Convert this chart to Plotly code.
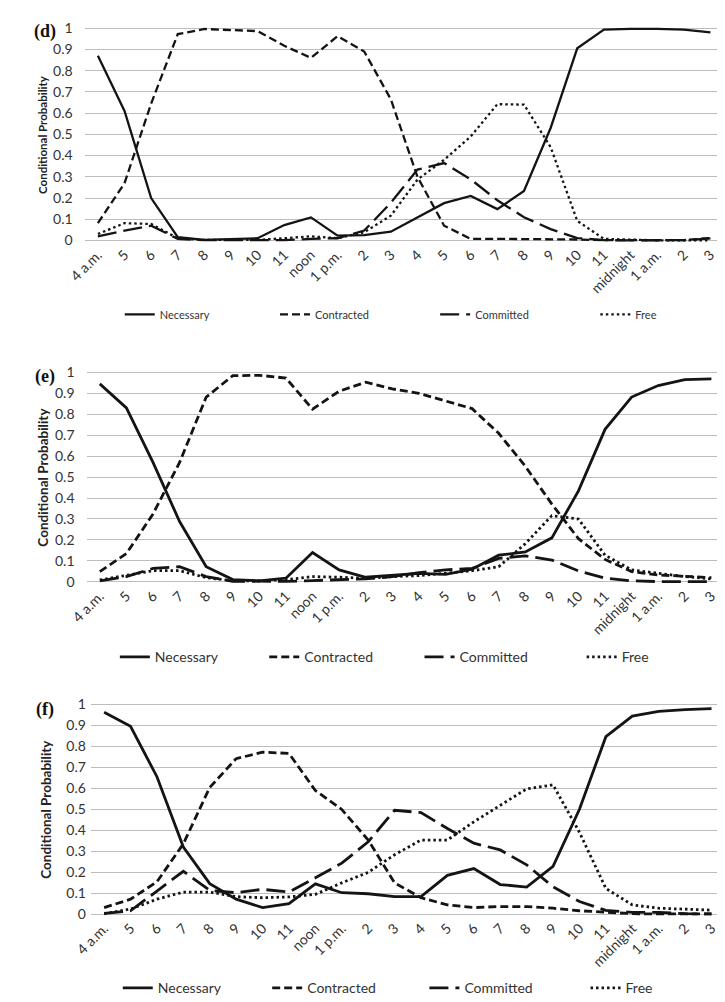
import plotly.graph_objects as go

hours = ["4 a.m.", "5", "6", "7", "8", "9", "10", "11", "noon", "1 p.m.", "2", "3",
         "4", "5", "6", "7", "8", "9", "10", "11", "midnight", "1 a.m.", "2", "3"]
series = ["Necessary", "Contracted", "Committed", "Free"]

# panel (d)
d_necessary = [0.87, 0.61, 0.20, 0.016, 0.003, 0.008, 0.011, 0.073, 0.109, 0.023, 0.026, 0.042,
               0.11, 0.176, 0.21, 0.148, 0.233, 0.53, 0.905, 0.993, 0.997, 0.997, 0.993, 0.98]
d_contracted = [0.082, 0.27, 0.645, 0.972, 0.996, 0.99, 0.986, 0.917, 0.86, 0.962, 0.89, 0.665,
                0.30, 0.07, 0.008, 0.008, 0.008, 0.008, 0.005, 0.002, 0.001, 0.001, 0.002, 0.012]
d_committed = [0.02, 0.047, 0.07, 0.008, 0.002, 0.002, 0.002, 0.002, 0.008, 0.011, 0.047, 0.178,
               0.334, 0.365, 0.288, 0.19, 0.11, 0.054, 0.012, 0.002, 0.001, 0.001, 0.002, 0.01]
d_free = [0.031, 0.082, 0.078, 0.011, 0.003, 0.003, 0.003, 0.011, 0.02, 0.011, 0.039, 0.117,
          0.287, 0.38, 0.49, 0.642, 0.64, 0.44, 0.093, 0.008, 0.003, 0.001, 0.001, 0.001]

# panel (e)
e_necessary = [0.945, 0.83, 0.57, 0.288, 0.072, 0.011, 0.005, 0.017, 0.14, 0.057, 0.022, 0.03,
               0.04, 0.036, 0.06, 0.127, 0.143, 0.21, 0.434, 0.728, 0.882, 0.937, 0.965, 0.969]
e_contracted = [0.049, 0.135, 0.324, 0.57, 0.882, 0.984, 0.986, 0.973, 0.824, 0.91, 0.953, 0.921,
                0.90, 0.862, 0.827, 0.709, 0.552, 0.371, 0.206, 0.107, 0.049, 0.033, 0.025, 0.02]
e_committed = [0.005, 0.025, 0.064, 0.072, 0.025, 0.002, 0.003, 0.002, 0.006, 0.009, 0.014, 0.025,
               0.044, 0.057, 0.064, 0.112, 0.124, 0.104, 0.052, 0.017, 0.005, 0.001, 0.001, 0.001]
e_free = [0.009, 0.03, 0.053, 0.053, 0.02, 0.005, 0.005, 0.01, 0.025, 0.022, 0.017, 0.025,
          0.03, 0.041, 0.053, 0.072, 0.182, 0.316, 0.30, 0.127, 0.057, 0.041, 0.025, 0.014]

# panel (f)
f_necessary = [0.962, 0.895, 0.655, 0.32, 0.145, 0.071, 0.031, 0.05, 0.144, 0.102, 0.097, 0.083,
               0.083, 0.185, 0.217, 0.141, 0.129, 0.228, 0.50, 0.846, 0.944, 0.967, 0.975, 0.98]
f_contracted = [0.031, 0.071, 0.154, 0.335, 0.604, 0.741, 0.772, 0.766, 0.589, 0.499, 0.353, 0.149,
                0.078, 0.044, 0.031, 0.036, 0.036, 0.028, 0.016, 0.008, 0.002, 0.001, 0.001, 0.001]
f_committed = [0.003, 0.016, 0.11, 0.204, 0.113, 0.102, 0.118, 0.105, 0.173, 0.243, 0.345, 0.495,
               0.484, 0.408, 0.338, 0.306, 0.235, 0.13, 0.06, 0.018, 0.008, 0.008, 0.002, 0.001]
f_free = [0.001, 0.024, 0.071, 0.105, 0.105, 0.083, 0.078, 0.082, 0.094, 0.149, 0.199, 0.283,
          0.353, 0.353, 0.44, 0.518, 0.597, 0.616, 0.39, 0.122, 0.044, 0.028, 0.024, 0.019]

W, H = 725, 1002
FONT = "Lato, Liberation Sans, sans-serif"
INK = "#141414"
GRID = "#bdbdbd"
PAD = 0.012

# pixel geometry of each panel: plot left/right, y of value 1 and of value 0,
# line width, fonts, legend row y and where each legend entry starts
panels = [
    dict(tag="(d)", data=[d_necessary, d_contracted, d_committed, d_free],
         left=61, right=715.5, top=13.3, zero=228.3, lw=2.3, tick=14, title=11.5,
         title_x=18, leg=11, leg_y=303, leg_x=[97, 256, 420, 584], standoff=11, label_y=17),
    dict(tag="(e)", data=[e_necessary, e_contracted, e_committed, e_free],
         left=63, right=716.5, top=361.7, zero=573.7, lw=2.8, tick=14, title=13.5,
         title_x=19, leg=14, leg_y=650, leg_x=[92, 245, 404, 570], standoff=11, label_y=366),
    dict(tag="(f)", data=[f_necessary, f_contracted, f_committed, f_free],
         left=67.5, right=716.5, top=697.7, zero=910, lw=2.8, tick=14, title=13.5,
         title_x=22, leg=14, leg_y=985, leg_x=[95, 248, 409, 574], standoff=4, label_y=703),
]
dashes = ["solid", "8px,4px", "19px,7px", "2.5px,3px"]

fig = go.Figure()
layout = dict(width=W, height=H, margin=dict(l=0, r=0, t=0, b=0),
              paper_bgcolor="white", plot_bgcolor="white", showlegend=True,
              annotations=[])
x = list(range(len(hours)))

k = 0
for i, p in enumerate(panels):
    n = "" if i == 0 else str(i + 1)
    for name, vals, dash, lx in zip(series, p["data"], dashes, p["leg_x"]):
        k += 1
        leg = "legend" if k == 1 else "legend" + str(k)
        fig.add_trace(go.Scatter(
            x=x, y=vals, name=name, mode="lines", xaxis="x" + n, yaxis="y" + n,
            legend=leg, line=dict(color=INK, width=p["lw"], dash=dash)))
        # one legend per entry so each sits where the original put it
        layout[leg] = dict(
            orientation="h", x=lx / W, xanchor="left",
            y=1 - p["leg_y"] / H, yanchor="middle", bgcolor="rgba(0,0,0,0)",
            font=dict(family=FONT, size=p["leg"], color="#333333"))
    unit = p["zero"] - p["top"]
    ytop = p["top"] - PAD * unit
    ybot = p["zero"] + PAD * unit
    layout["xaxis" + n] = dict(
        domain=[p["left"] / W, p["right"] / W], anchor="y" + n,
        range=[-0.5, len(hours) - 0.5], tickvals=x, ticktext=hours, tickangle=-45,
        showgrid=False, zeroline=False, showline=False, ticks="",
        tickfont=dict(family=FONT, size=p["tick"], color="#333333"))
    layout["yaxis" + n] = dict(
        domain=[1 - ybot / H, 1 - ytop / H], anchor="x" + n,
        range=[-PAD, 1 + PAD], tick0=0, dtick=0.1, tickformat="~g",
        showgrid=True, gridcolor=GRID, gridwidth=1.2, zeroline=False, showline=False,
        ticks="", ticklabelstandoff=p["standoff"],
        tickfont=dict(family=FONT, size=p["tick"], color="#333333"))
    layout["annotations"].append(dict(
        text="Conditional Probability", textangle=-90, showarrow=False,
        x=p["title_x"] / W, y=1 - (p["top"] + p["zero"]) / 2 / H,
        xref="paper", yref="paper", xanchor="center", yanchor="middle",
        font=dict(family=FONT, size=p["title"], color="#222222", weight="bold")))
    layout["annotations"].append(dict(
        text="<b>" + p["tag"] + "</b>", showarrow=False,
        x=20 / W, y=1 - p["label_y"] / H, xref="paper", yref="paper",
        xanchor="center", yanchor="middle",
        font=dict(family="Liberation Serif, serif", size=18, color="#111111")))

fig.update_layout(**layout)
fig.write_html("out.html")
